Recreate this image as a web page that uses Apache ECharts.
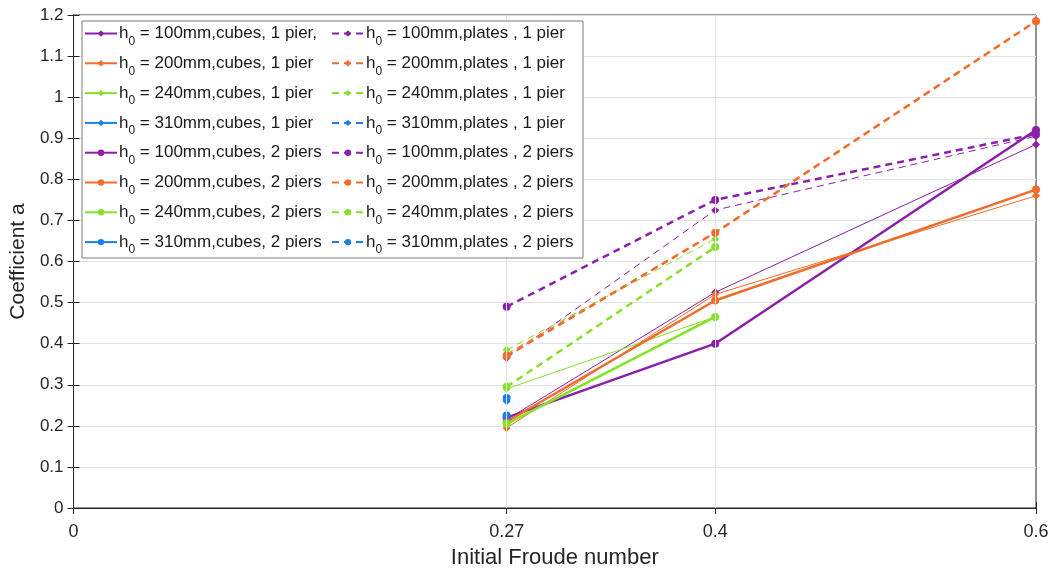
<!DOCTYPE html>
<html>
<head>
<meta charset="utf-8">
<script src="https://cdn.jsdelivr.net/npm/echarts@6/dist/echarts.min.js"></script>
<style>html,body{margin:0;padding:0;background:#fff}#chart{width:1056px;height:576px}</style>
</head>
<body>
<div id="chart"></div>
<script>
// ---- data ----
const froude = [0.27, 0.4, 0.6];
const xTicks = [0, 0.27, 0.4, 0.6];
const xGridLines = [0.27, 0.4];
const depths = ['100', '200', '240', '310'];
const depthColors = ['#8B1FA9', '#F26B2A', '#84E228', '#1A7FE8'];

const cubes1Pier_100 = [0.215, 0.525, 0.885];
const cubes1Pier_200 = [0.195, 0.52, 0.76];
const cubes1Pier_240 = [0.29, 0.465, null];
const cubes1Pier_310 = [0.225, null, null];

const cubes2Piers_100 = [0.22, 0.40, 0.92];
const cubes2Piers_200 = [0.21, 0.505, 0.775];
const cubes2Piers_240 = [0.205, 0.465, null];
const cubes2Piers_310 = [0.225, null, null];

const plates1Pier_100 = [0.365, 0.725, 0.905];
const plates1Pier_200 = [0.375, 0.67, 1.185];
const plates1Pier_240 = [0.385, 0.655, null];
const plates1Pier_310 = [0.26, null, null];

const plates2Piers_100 = [0.49, 0.75, 0.91];
const plates2Piers_200 = [0.37, 0.67, 1.185];
const plates2Piers_240 = [0.295, 0.635, null];
const plates2Piers_310 = [0.268, null, null];

const groups = [
  {label: d => 'h0 = ' + d + 'mm,cubes, 1 pier' + (d === '100' ? ',' : ''), sets: [cubes1Pier_100, cubes1Pier_200, cubes1Pier_240, cubes1Pier_310], dashed: false, twoPiers: false},
  {label: d => 'h0 = ' + d + 'mm,cubes, 2 piers', sets: [cubes2Piers_100, cubes2Piers_200, cubes2Piers_240, cubes2Piers_310], dashed: false, twoPiers: true},
  {label: d => 'h0 = ' + d + 'mm,plates , 1 pier', sets: [plates1Pier_100, plates1Pier_200, plates1Pier_240, plates1Pier_310], dashed: true, twoPiers: false},
  {label: d => 'h0 = ' + d + 'mm,plates , 2 piers', sets: [plates2Piers_100, plates2Piers_200, plates2Piers_240, plates2Piers_310], dashed: true, twoPiers: true}
];

const series = [];
const leftNames = [], rightNames = [];
groups.forEach(g => {
  g.sets.forEach((vals, i) => {
    const name = g.label(depths[i]);
    if (g.dashed) rightNames.push(name); else leftNames.push(name);
    series.push({
      name: name,
      type: 'line',
      data: froude.map((x, k) => vals[k] == null ? null : [x, vals[k]]).filter(p => p),
      symbol: g.twoPiers ? 'circle' : 'diamond',
      symbolSize: 8,
      color: depthColors[i],
      lineStyle: {width: g.twoPiers ? 2.5 : 1, type: g.dashed ? [7, 5] : 'solid', color: depthColors[i]},
      itemStyle: {color: depthColors[i]},
      emphasis: {disabled: true},
      animation: false,
      z: g.twoPiers ? 3 : 2
    });
  });
});
// vertical grid lines at the custom ticks
series.unshift({
  type: 'line', data: [], silent: true, animation: false,
  markLine: {silent: true, symbol: 'none', label: {show: false},
    lineStyle: {color: '#e3e3e3', width: 1, type: 'solid'},
    data: xGridLines.map(v => ({xAxis: v}))},
  z: 0
});

const fmt = n => '{m|h}{s|0}{m|' + n.slice(2) + '}';
const richStyle = {
  m: {fontSize: 17, lineHeight: 22, color: '#1a1a1a', fontFamily: 'Liberation Sans'},
  s: {fontSize: 12, lineHeight: 12, verticalAlign: 'bottom', color: '#1a1a1a', fontFamily: 'Liberation Sans', padding: [0, 0, -3, 0]}
};
const legendCommon = {
  orient: 'vertical', top: 25, padding: 0, itemWidth: 32, itemHeight: 8, itemGap: 7.3,
  formatter: fmt, textStyle: {rich: richStyle, padding: [0, 0, 0, -3]},
  selectedMode: false
};

const axisColor = '#262626';
const option = {
  backgroundColor: '#fff',
  animation: false,
  grid: {left: 73, right: 20, top: 15, bottom: 68, show: true, borderColor: axisColor, borderWidth: 1, containLabel: false},
  graphic: [{type: 'rect', shape: {x: 82, y: 21, width: 501, height: 237}, style: {fill: '#fff', stroke: '#7a7a7a', lineWidth: 1}, z: 20}],
  legend: [
    Object.assign({}, legendCommon, {left: 84, data: leftNames, z: 21}),
    Object.assign({}, legendCommon, {left: 331, data: rightNames, z: 21})
  ],
  xAxis: [{
    type: 'value', min: 0, max: 0.6,
    name: 'Initial Froude number', nameLocation: 'middle', nameGap: 39,
    nameTextStyle: {fontSize: 22, color: axisColor, fontFamily: 'Liberation Sans'},
    axisLine: {show: true, lineStyle: {color: axisColor}},
    axisTick: {show: true, inside: true, length: 6, customValues: xTicks, lineStyle: {color: axisColor}},
    axisLabel: {customValues: xTicks, fontSize: 18, color: axisColor, margin: 15, fontFamily: 'Liberation Sans'},
    splitLine: {show: false}
  }, {
    type: 'value', min: 0, max: 0.6, position: 'top',
    axisLine: {show: true, lineStyle: {color: axisColor}},
    axisTick: {show: true, inside: true, length: 6, customValues: xTicks, lineStyle: {color: axisColor}},
    axisLabel: {show: false}, splitLine: {show: false}
  }],
  yAxis: [{
    type: 'value', min: 0, max: 1.2, interval: 0.1,
    name: 'Coefficient a', nameLocation: 'middle', nameGap: 28,
    nameTextStyle: {fontSize: 21, color: axisColor, fontFamily: 'Liberation Sans'},
    axisLine: {show: true, lineStyle: {color: axisColor}},
    axisTick: {show: true, inside: true, length: 6, lineStyle: {color: axisColor}},
    axisLabel: {fontSize: 17, color: axisColor, margin: 10, fontFamily: 'Liberation Sans'},
    splitLine: {show: true, lineStyle: {color: '#e3e3e3', width: 1}}
  }, {
    type: 'value', min: 0, max: 1.2, interval: 0.1, position: 'right',
    axisLine: {show: true, lineStyle: {color: axisColor}},
    axisTick: {show: true, inside: true, length: 6, lineStyle: {color: axisColor}},
    axisLabel: {show: false}, splitLine: {show: false}
  }],
  series: series
};

const chart = echarts.init(document.getElementById('chart'), null, {renderer: 'canvas'});
chart.setOption(option);
</script>
</body>
</html>
